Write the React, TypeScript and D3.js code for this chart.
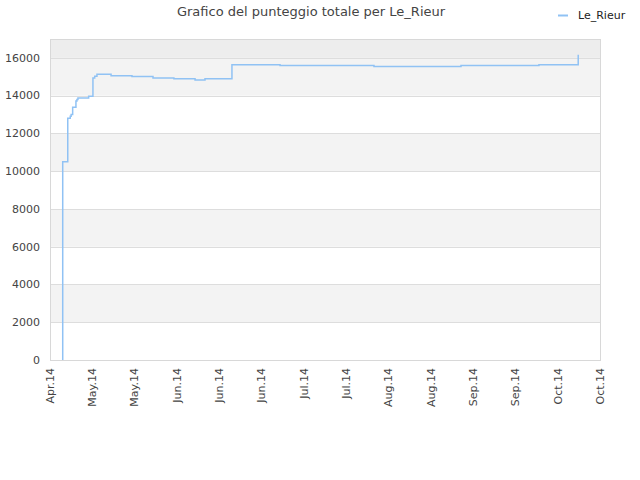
import React, { useEffect, useRef } from "react";
import * as d3 from "d3";

const title = "Grafico del punteggio totale per Le_Rieur";
const seriesName = "Le_Rieur";

// timestamps of each score change, and the total score from that moment
const dates = [
  "2014-04-24T05:00", "2014-04-24T05:00", "2014-04-25T21:00", "2014-04-26T17:00",
  "2014-04-27T00:00", "2014-04-27T12:00", "2014-04-28T14:00", "2014-04-28T22:00",
  "2014-04-29T06:00", "2014-05-02T19:00", "2014-05-04T05:00", "2014-05-04T19:00",
  "2014-05-05T13:00", "2014-05-10T05:00", "2014-05-17T03:00", "2014-05-24T02:00",
  "2014-05-31T00:00", "2014-06-07T00:00", "2014-06-10T07:00", "2014-06-19T05:00",
  "2014-07-05T03:00", "2014-08-05T05:00", "2014-09-03T00:00", "2014-09-28T19:00",
  "2014-10-11T19:00",
];
const scores = [
  0, 10500, 12800, 12910,
  13000, 13390, 13710, 13790,
  13880, 13970, 14940, 15030,
  15130, 15060, 15010, 14940,
  14890, 14830, 14890, 15640,
  15590, 15540, 15590, 15640,
  16160,
];

const domainStart = "2014-04-20";
const tickStepDays = 14;
const tickCount = 14;
const yMax = 17000;
const yTicks = [0, 2000, 4000, 6000, 8000, 10000, 12000, 14000, 16000];

export default function App() {
  const svgRef = useRef<SVGSVGElement | null>(null);

  useEffect(() => {
    if (!svgRef.current) return;
    const svg = d3.select(svgRef.current);
    svg.selectAll("*").remove();

    const margin = { top: 39, right: 40, bottom: 120, left: 50 };
    const W = 640;
    const H = 480;
    const width = W - margin.left - margin.right;
    const height = H - margin.top - margin.bottom;
    const font = "'DejaVu Sans', Verdana, sans-serif";

    const start = d3.isoParse(domainStart) as Date;
    const tickDates = d3.range(tickCount).map((i) => d3.timeDay.offset(start, i * tickStepDays));

    const x = d3
      .scaleTime()
      .domain([tickDates[0], tickDates[tickDates.length - 1]])
      .range([0, width]);
    const y = d3.scaleLinear().domain([0, yMax]).range([height, 0]);

    const chart = svg.append("g").attr("transform", `translate(${margin.left},${margin.top})`);

    // alternating bands
    const bands = [...yTicks, yMax];
    for (let i = 0; i < bands.length - 1; i++) {
      const top = bands[i + 1];
      const fill = top === yMax ? "#ededed" : i % 2 === 1 ? "#f3f3f3" : "#ffffff";
      chart
        .append("rect")
        .attr("x", 0)
        .attr("y", y(top))
        .attr("width", width)
        .attr("height", y(bands[i]) - y(top))
        .attr("fill", fill);
    }

    chart
      .selectAll(".grid")
      .data(yTicks.slice(1))
      .enter()
      .append("line")
      .attr("x1", 0)
      .attr("x2", width)
      .attr("y1", (d) => Math.round(y(d)) + 0.5)
      .attr("y2", (d) => Math.round(y(d)) + 0.5)
      .attr("stroke", "#dddddd");

    chart
      .append("rect")
      .attr("x", 0.5)
      .attr("y", 0.5)
      .attr("width", width)
      .attr("height", height)
      .attr("fill", "none")
      .attr("stroke", "#d8d8d8");

    // y labels
    chart
      .selectAll(".ylab")
      .data(yTicks)
      .enter()
      .append("text")
      .attr("x", -10)
      .attr("y", (d) => y(d))
      .attr("dy", "0.35em")
      .attr("text-anchor", "end")
      .attr("font-family", font)
      .attr("font-size", 11)
      .attr("fill", "#444")
      .text((d) => String(d));

    // x labels, rotated
    const fmt = d3.timeFormat("%b.%y");
    chart
      .selectAll(".xlab")
      .data(tickDates)
      .enter()
      .append("text")
      .attr("transform", (d) => `translate(${x(d)},${height + 8}) rotate(-90)`)
      .attr("dy", "0.35em")
      .attr("text-anchor", "end")
      .attr("font-family", font)
      .attr("font-size", 11)
      .attr("fill", "#444")
      .text((d) => fmt(d));

    const points = dates.map((d, i) => ({ x: d3.isoParse(d) as Date, y: scores[i] }));
    const line = d3
      .line<{ x: Date; y: number }>()
      .x((d) => x(d.x))
      .y((d) => y(d.y))
      .curve(d3.curveStepAfter);

    chart
      .append("path")
      .datum(points)
      .attr("fill", "none")
      .attr("stroke", "#90c2f4")
      .attr("stroke-width", 1.5)
      .attr("d", line);

    // title
    svg
      .append("text")
      .attr("x", 311)
      .attr("y", 16)
      .attr("text-anchor", "middle")
      .attr("font-family", font)
      .attr("font-size", 13)
      .attr("fill", "#444")
      .text(title);

    // legend
    svg
      .append("line")
      .attr("x1", 558)
      .attr("x2", 568)
      .attr("y1", 15.5)
      .attr("y2", 15.5)
      .attr("stroke", "#90c2f4")
      .attr("stroke-width", 2);
    svg
      .append("text")
      .attr("x", 578)
      .attr("y", 15)
      .attr("dy", "0.35em")
      .attr("font-family", font)
      .attr("font-size", 11)
      .attr("fill", "#222")
      .text(seriesName);
  }, []);

  return (
    <svg
      ref={svgRef}
      width={640}
      height={480}
      style={{ position: "absolute", left: 0, top: 0, background: "#fff" }}
    ></svg>
  );
}
